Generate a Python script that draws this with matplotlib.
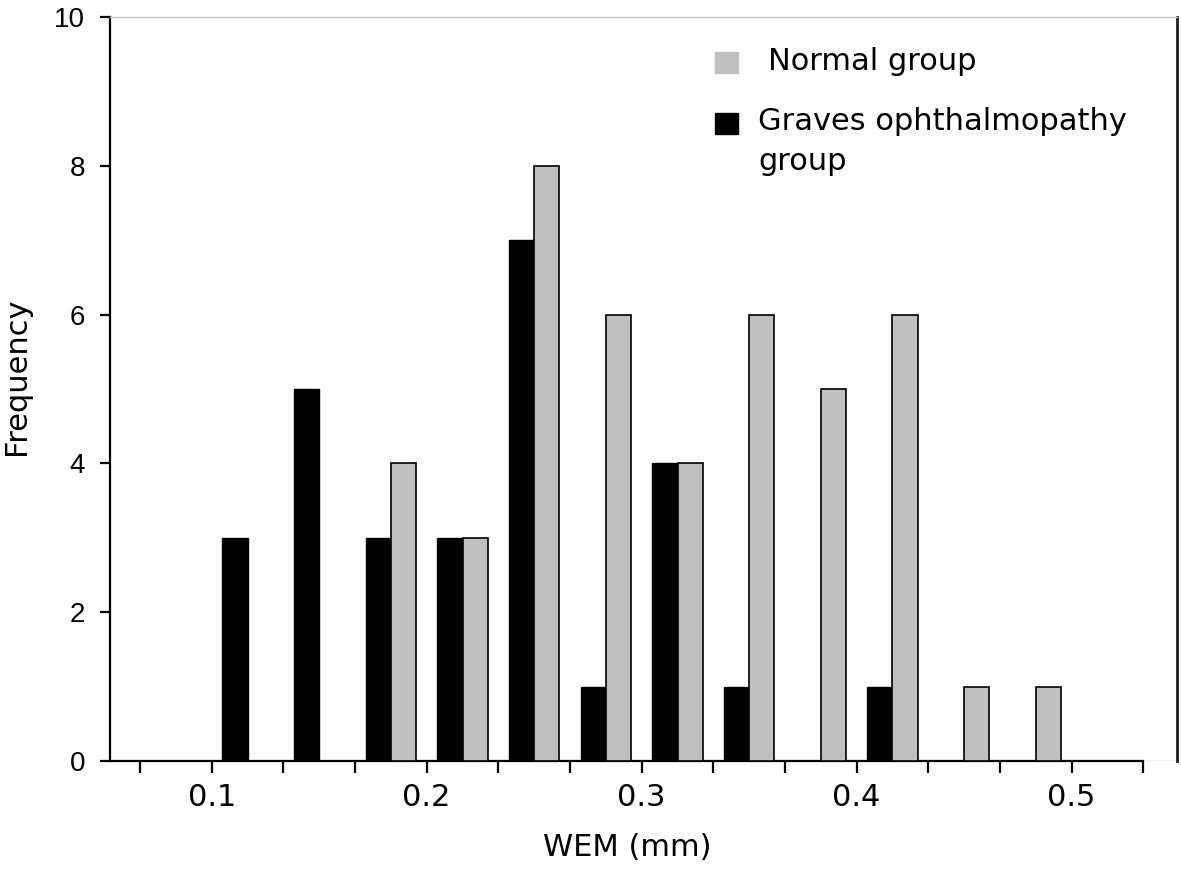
import numpy as np
import matplotlib.pyplot as plt
from matplotlib.patches import Rectangle

# WEM histogram bins (lower edge, mm), bin width 1/30 mm
bin_lower = [0.1, 0.1333, 0.1667, 0.2, 0.2333, 0.2667, 0.3, 0.3333, 0.3667, 0.4, 0.4333, 0.4667]
bin_width = 1 / 30
graves = [3, 5, 3, 3, 7, 1, 4, 1, 0, 1, 0, 0]
normal = [0, 0, 4, 3, 8, 6, 4, 6, 5, 6, 1, 1]
xtick_major = [0.1, 0.2, 0.3, 0.4, 0.5]
ytick_vals = [0, 2, 4, 6, 8, 10]

W, H = 1181, 869
fig = plt.figure(figsize=(W / 100, H / 100), dpi=100)
ax = fig.add_axes([110 / W, 1 - 761 / H, (1177 - 110) / W, (761 - 17) / H])

lab_font = ['DejaVu Sans']
fs = 22

centers = np.array(bin_lower) + bin_width / 2
bw = 0.0118
for c, g, n in zip(centers, graves, normal):
    if g > 0:
        ax.bar(c - bw, g, width=bw, align='edge', color='black', edgecolor='black', linewidth=1, zorder=3)
    if n > 0:
        ax.bar(c, n, width=bw, align='edge', color='#c0c0c0', edgecolor='black', linewidth=1.2, zorder=3)

xmin, xmax = 0.0527, 0.549
ax.set_xlim(xmin, xmax)
ax.set_ylim(0, 10)

# light frame, black axes on left and bottom (bottom stops at last tick)
ax.spines['top'].set_color('#c8c8c8')
ax.spines['top'].set_linewidth(1)
ax.spines['right'].set_color('#202020')
ax.spines['right'].set_linewidth(2)
ax.spines['left'].set_linewidth(1.6)
ax.spines['bottom'].set_linewidth(1.6)
all_ticks = np.arange(2, 17) / 30
ax.spines['bottom'].set_bounds(xmin, all_ticks[-1])
ax.axhline(0, color='#c8c8c8', linewidth=1, zorder=0)

ax.set_xticks(all_ticks)
ax.set_xticklabels(['%.1f' % t if any(abs(t - m) < 1e-6 for m in xtick_major) else '' for t in all_ticks],
                   family=lab_font, fontsize=fs)
ax.tick_params(axis='x', direction='out', length=8.5, width=1.6, pad=7)

ax.set_yticks(ytick_vals)
ax.set_yticklabels([str(v) for v in ytick_vals], family='Liberation Sans', fontsize=20)
ax.tick_params(axis='y', direction='out', length=7, width=1.6, pad=11)

ax.set_xlabel('WEM (mm)', family=lab_font, fontsize=fs)
ax.xaxis.set_label_coords((627 - 110) / 1067, (761 - 848) / 744)
ax.xaxis.label.set_va('center')
ax.set_ylabel('Frequency', family=lab_font, fontsize=fs)
ax.yaxis.set_label_coords((17 - 110) / 1067, (761 - 376) / 744)
ax.yaxis.label.set_va('center')

# legend
def fx(px):
    return px / W
def fy(py):
    return 1 - py / H
fig.add_artist(Rectangle((fx(715), fy(73)), 23 / W, 21 / H, color='#c0c0c0', transform=fig.transFigure))
fig.add_artist(Rectangle((fx(715), fy(134)), 23 / W, 21 / H, color='black', transform=fig.transFigure))
fig.text(fx(768), fy(62), 'Normal group', family=lab_font, fontsize=fs, va='center')
fig.text(fx(758), fy(121), 'Graves ophthalmopathy', family=lab_font, fontsize=fs, va='center')
fig.text(fx(758), fy(162), 'group', family=lab_font, fontsize=fs, va='center')

fig.savefig('out.png', dpi=100)
